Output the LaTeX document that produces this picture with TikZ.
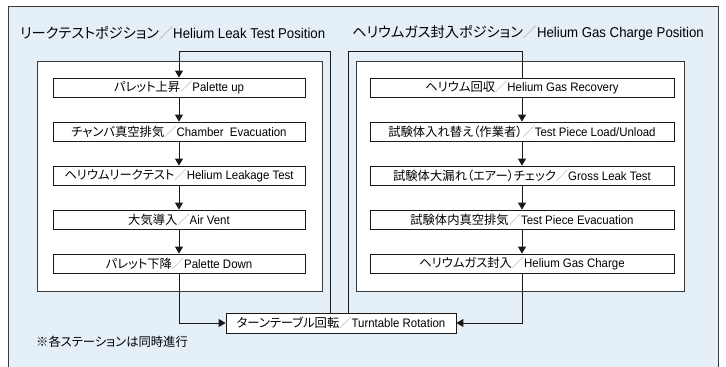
\documentclass[tikz,border=0pt]{standalone}
\usepackage{fontspec}
\setmainfont{Liberation Sans}[FakeStretch=0.93]
\newfontfamily\jpf[RawFeature=+palt]{Noto Sans CJK JP}
\usetikzlibrary{arrows.meta}
\definecolor{bluefill}{HTML}{E5EFF8}
\definecolor{framecol}{HTML}{3A3A3A}
\newcommand\jp[1]{{\jpf #1}}
\newcommand\slsep{{\jpf\color{black!35}／}}
\begin{document}
\begin{tikzpicture}[x=1pt,y=-1pt,
  conn/.style={line width=0.9pt, draw=black!90},
  arr/.style={conn, -{Triangle[width=8pt,length=7pt]}},
  stepbox/.style={draw=black!90, fill=white, line width=0.8pt, minimum height=19pt, inner sep=0pt, font=\fontsize{12.3}{14}\selectfont, text=black},
  lstep/.style={stepbox, minimum width=252pt},
  rstep/.style={stepbox, minimum width=304pt},
  heading/.style={anchor=west, inner sep=0pt, font=\fontsize{14.2}{16}\selectfont, text=black},
  panel/.style={draw=framecol, fill=white, line width=0.8pt}
]
\useasboundingbox (0,0) rectangle (726,367);
\draw[fill=bluefill, draw=framecol, line width=1pt] (8,6) rectangle (718,380);
\node[heading] (h1) at (20,33) {\jp{リークテストポジション}\slsep Helium Leak Test Position};
\node[heading] (h2) at (352,33) {\jp{ヘリウムガス封入ポジション}\slsep Helium Gas Charge Position};
\draw[panel] (37,61) rectangle (322,291);
\draw[panel] (356,61) rectangle (684,291);
% left column
\node[lstep] (l1) at (179,87.5) {\jp{パレット上昇}\slsep Palette up};
\node[lstep] (l2) at (179,131.5) {\jp{チャンバ真空排気}\slsep Chamber\ \ Evacuation};
\node[lstep] (l3) at (179,175.5) {\jp{ヘリウムリークテスト}\slsep Helium Leakage Test};
\node[lstep] (l4) at (179,219.5) {\jp{大気導入}\slsep Air Vent};
\node[lstep] (l5) at (179,263.5) {\jp{パレット下降}\slsep Palette Down};
% right column
\node[rstep] (r1) at (522,87.5) {\jp{ヘリウム回収}\slsep Helium Gas Recovery};
\node[rstep] (r2) at (522,131.5) {\jp{試験体入れ替え（作業者）}\slsep Test Piece Load/Unload};
\node[rstep] (r3) at (522,175.5) {\jp{試験体大漏れ（エアー）チェック}\slsep Gross Leak Test};
\node[rstep] (r4) at (522,219.5) {\jp{試験体内真空排気}\slsep Test Piece Evacuation};
\node[rstep] (r5) at (522,263.5) {\jp{ヘリウムガス封入}\slsep Helium Gas Charge};
% turntable
\node[stepbox, minimum width=230pt, minimum height=20pt] (tt) at (341,323) {\jp{ターンテーブル回転}\slsep Turntable Rotation};
\node[anchor=west, inner sep=0pt, font=\fontsize{12.3}{14}\selectfont] (note) at (36,342) {\jp{※各ステーションは同時進行}};
% connectors
\draw[arr] (l1) -- (l2);
\draw[arr] (l2) -- (l3);
\draw[arr] (l3) -- (l4);
\draw[arr] (l4) -- (l5);
\draw[arr] (r1) -- (r2);
\draw[arr] (r2) -- (r3);
\draw[arr] (r3) -- (r4);
\draw[arr] (r4) -- (r5);
\coordinate (tl) at (330,51);
\coordinate (tr) at (348,51);
\draw[arr] (tt.north -| tl) -- (tl) -| (l1.north);
\draw[conn] (tt.north -| tr) -- (tr) -| (r1.north);
\draw[arr] (l5.south) |- (tt.west);
\draw[arr] (r5.south) |- (tt.east);
\end{tikzpicture}
\end{document}
